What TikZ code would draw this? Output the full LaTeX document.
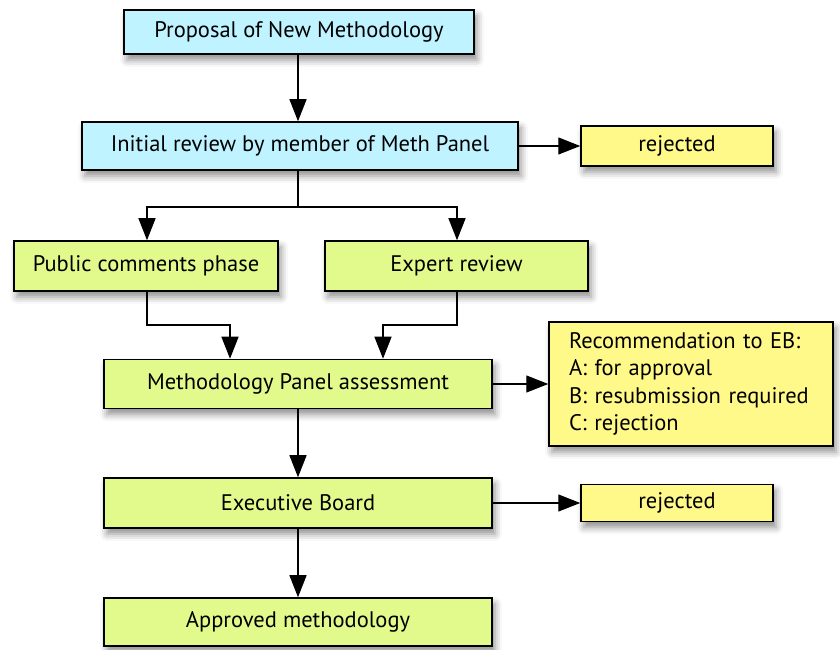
\documentclass[tikz,border=0pt]{standalone}
\usepackage{fontspec}
\setmainfont{PT Sans}
\usetikzlibrary{arrows.meta,shadows.blur}
\definecolor{boxblue}{HTML}{BFF3FF}
\definecolor{boxgreen}{HTML}{E2F98C}
\definecolor{boxyellow}{HTML}{FFF98A}
\begin{document}
\begin{tikzpicture}[x=1pt,y=1pt,
  box/.style={draw=black, line width=1.5pt, minimum width=#1, inner sep=0pt, font=\fontsize{22.5}{26}\selectfont,
    blur shadow={shadow xshift=3pt, shadow yshift=-6pt, shadow blur radius=7pt, shadow opacity=45}},
  bluebox/.style={box=#1, fill=boxblue},
  greenbox/.style={box=#1, fill=boxgreen},
  yellowbox/.style={box=#1, fill=boxyellow},
  conn/.style={line width=1.3pt, -{Triangle[length=22pt,width=17pt]}},
  link/.style={line width=1.3pt}]
\useasboundingbox (0,0) rectangle (840,650);
\node[bluebox=350pt, minimum height=44pt] (prop) at (299,618) {Proposal of New Methodology};
\node[bluebox=436pt, minimum height=48pt] (init) at (300,504) {Initial review by member of Meth Panel};
\node[yellowbox=192pt, minimum height=40pt] (rej1) at (677,504) {rejected};
\node[greenbox=264pt, minimum height=50pt] (pub) at (146,384) {Public comments phase};
\node[greenbox=263pt, minimum height=50pt] (exp) at (456.5,384) {Expert review};
\node[greenbox=388pt, minimum height=49pt] (panel) at (298,266) {Methodology Panel assessment};
\node[yellowbox=284pt, minimum height=124pt, text width=244pt, align=left, font=\fontsize{22.5}{27.5}\selectfont] (rec) at (691,266) {Recommendation to EB:\\A: for approval\\B: resubmission required\\C: rejection};
\node[greenbox=388pt, minimum height=50pt] (eb) at (298,147) {Executive Board};
\node[yellowbox=192pt, minimum height=37pt] (rej2) at (677,147) {rejected};
\node[greenbox=388pt, minimum height=48pt] (appr) at (298,28) {Approved methodology};
\coordinate (split) at (298,443);
\coordinate (joinL) at (147,325);
\coordinate (joinR) at (457,325);
\draw[conn] (prop.south -| 298,0) -- (init.north -| 298,0);
\draw[conn] (init.east) -- (rej1.west);
\draw[link] (init.south -| split) -- (split);
\draw[conn] (split) -| (pub.north -| 147,0);
\draw[conn] (split) -| (exp.north -| 457,0);
\draw[conn] (pub.south -| joinL) -- (joinL) -| (panel.north -| 230,0);
\draw[conn] (exp.south -| joinR) -- (joinR) -| (panel.north -| 383,0);
\draw[conn] (panel.east) -- (rec.west);
\draw[conn] (panel.south) -- (eb.north);
\draw[conn] (eb.east) -- (rej2.west);
\draw[conn] (eb.south) -- (appr.north);
\end{tikzpicture}
\end{document}
